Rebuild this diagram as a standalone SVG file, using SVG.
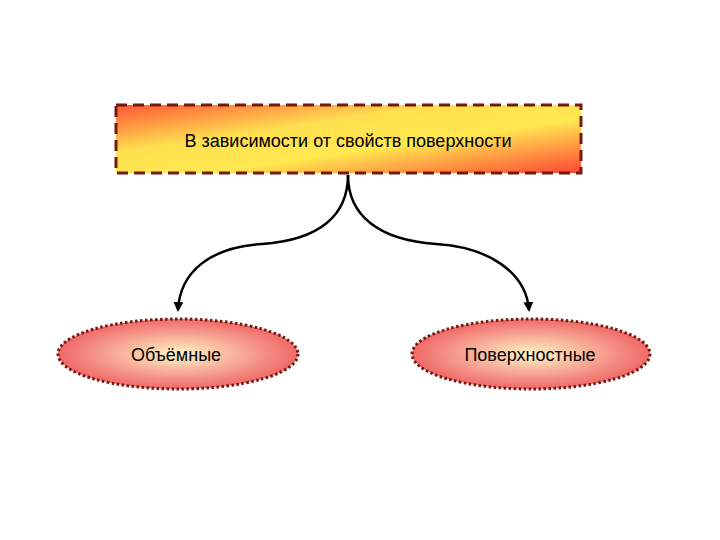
<svg xmlns="http://www.w3.org/2000/svg" width="720" height="540" viewBox="0 0 720 540">
<style>
.lbl{font-family:"Liberation Sans",Arial,sans-serif;font-size:18px;fill:#000}
.conn{fill:none;stroke:#000;stroke-width:2.5}
</style>
<defs>
<linearGradient id="boxg" x1="0" y1="0" x2="1" y2="1">
<stop offset="0" stop-color="#FF5535"/>
<stop offset="0.35" stop-color="#FFE050"/>
<stop offset="0.6" stop-color="#FFE850"/>
<stop offset="1" stop-color="#FF4535"/>
</linearGradient>
<radialGradient id="ellg" cx="0.5" cy="0.5" r="0.5">
<stop offset="0" stop-color="#FFF4C8"/>
<stop offset="1" stop-color="#F06868"/>
</radialGradient>
<marker id="arr" viewBox="0 0 10 10" refX="8" refY="5" markerWidth="4" markerHeight="4" orient="auto">
<path d="M0,0 L10,5 L0,10 z" fill="#000"/>
</marker>
</defs>
<rect width="720" height="540" fill="#fff"/>
<g id="connectors">
<path class="conn" marker-end="url(#arr)" d="M348,175 C348,215 320,240 262,244 C210,247 180,272 178,310"/>
<path class="conn" marker-end="url(#arr)" d="M348,175 C348,215 378,240 436,244 C488,247 526,272 529,310"/>
</g>
<g id="top">
<rect x="116" y="105" width="465" height="68" fill="url(#boxg)" stroke="#761A10" stroke-width="3" stroke-dasharray="11,6"/>
<text class="lbl" x="348" y="147" text-anchor="middle">В зависимости от свойств поверхности</text>
</g>
<g id="left">
<ellipse cx="178" cy="354" rx="120" ry="35" fill="url(#ellg)" stroke="#761A10" stroke-width="3" stroke-dasharray="2.5,2.5"/>
<text class="lbl" x="176" y="361" text-anchor="middle">Объёмные</text>
</g>
<g id="right">
<ellipse cx="531" cy="354" rx="119" ry="35" fill="url(#ellg)" stroke="#761A10" stroke-width="3" stroke-dasharray="2.5,2.5"/>
<text class="lbl" x="530" y="361" text-anchor="middle">Поверхностные</text>
</g>
</svg>
